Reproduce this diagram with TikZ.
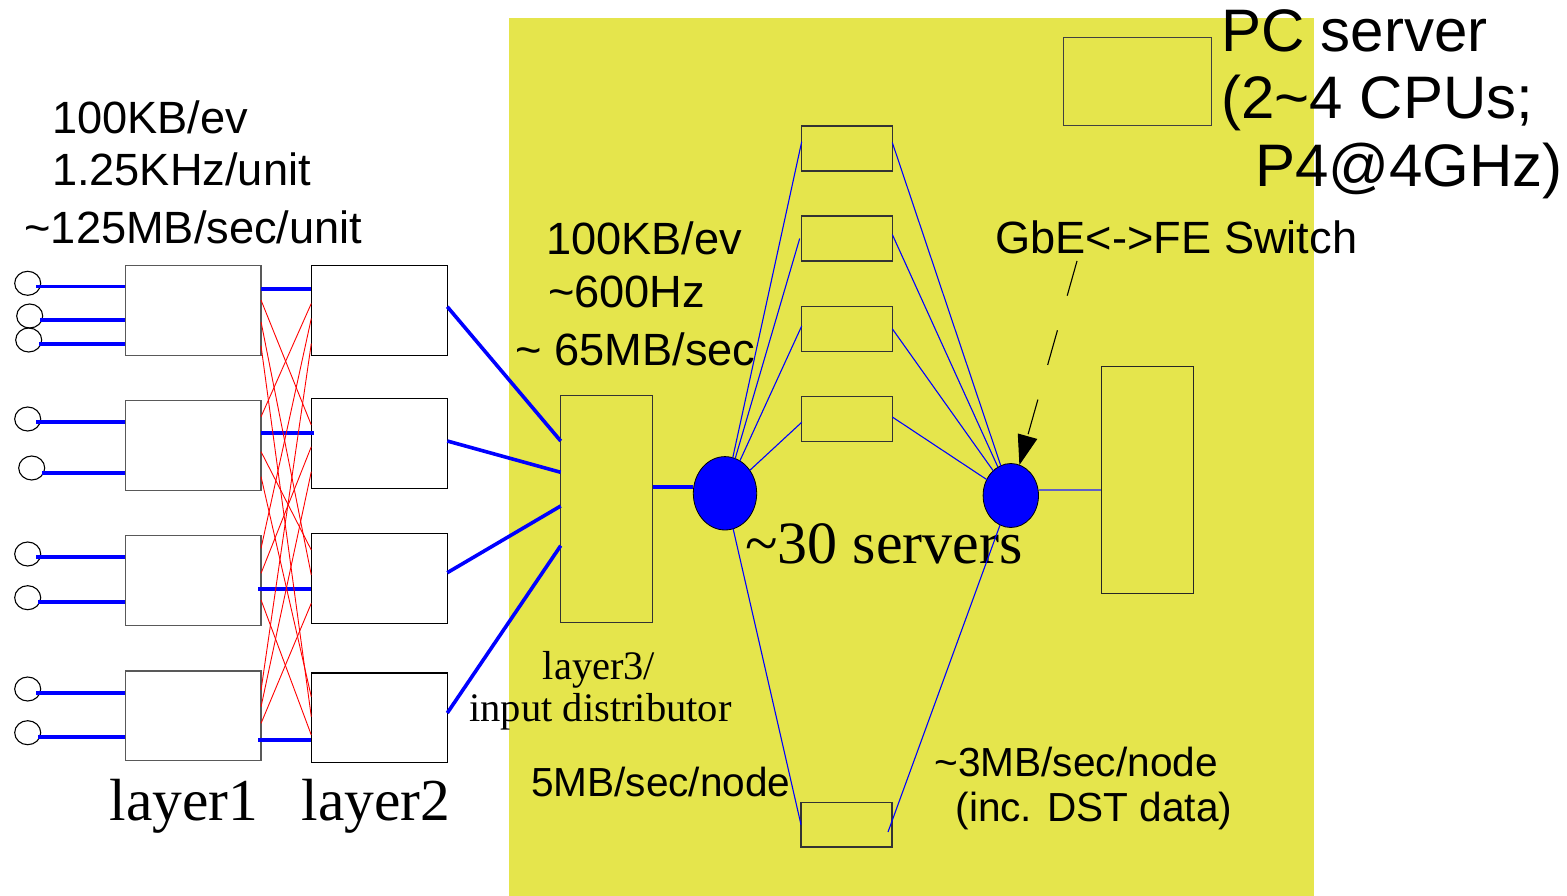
\documentclass[tikz,border=0pt]{standalone}
\usepackage{fontspec}
\setmainfont{Liberation Serif}
\newfontfamily\arial{Liberation Sans}
\usetikzlibrary{shapes.geometric,arrows.meta}
\definecolor{panel}{RGB}{229,229,76}
\definecolor{linkblue}{RGB}{0,0,255}
\definecolor{slate}{RGB}{96,96,200}
\newcommand\tildech{\char"7E\relax}
\begin{document}
\begin{tikzpicture}[x=1pt,y=-1pt,
  every node/.style={inner sep=0pt, outer sep=0pt},
  plainbox/.style 2 args={draw, rectangle, line width=1.2pt, minimum width=#1, minimum height=#2},
  port/.style={draw, ellipse, line width=1.1pt, minimum width=26pt, minimum height=24pt},
  hub/.style={draw=black, fill=linkblue, ellipse, line width=0.8pt},
  feed/.style={draw=linkblue, line width=3.6pt},
  mesh/.style={draw=red, line width=0.9pt},
  wire/.style={draw=linkblue, line width=1.1pt},
  pointer/.style={line width=1.1pt, dash pattern=on 36pt off 36pt, -{Triangle[length=30pt,width=20pt]}},
  sansL/.style={font=\arial\fontsize{45.2pt}{53pt}\selectfont, anchor=base west},
  sansM/.style={font=\arial\fontsize{40.6pt}{48pt}\selectfont, anchor=base west},
  sansXL/.style={font=\arial\fontsize{60pt}{67pt}\selectfont, anchor=base west},
  serifL/.style={font=\fontsize{60pt}{67pt}\selectfont, anchor=base west},
  serifM/.style={font=\fontsize{40.5pt}{48pt}\selectfont, anchor=base},
]
\useasboundingbox (0,0) rectangle (1567,896);

% farm area
\fill[panel] (509,18) rectangle (1314,896);

% ---- labels ----
\node[sansL] (t1a) at (52,133.3) {100KB/ev};
\node[sansL] (t1b) at (52,186) {1.25KHz/unit};
\node[sansL] (t1c) at (24.5,243.3) {\tildech125MB/sec/unit};

\node[sansL] (t2a) at (546,255) {100KB/ev};
\node[sansL] (t2b) at (548,307.3) {\tildech600Hz};
\node[sansL] (t2c) at (515.5,365) {\tildech{} 65MB/sec};

\node[sansXL] (t3a) at (1221,51.7) {PC server};
\node[sansXL] (t3b) at (1221.5,118.3) {(2\tildech4 CPUs;};
\node[sansXL] (t3c) at (1255,186.7) {P4@4GHz)};

\node[sansL] (gbe) at (995.5,253.3) {GbE<->FE Switch};

\node[serifL] (srv) at (745.5,563.3) {\tildech30 servers};

\node[sansM] (t4) at (531,796) {5MB/sec/node};
\node[sansM] (t5a) at (934.5,776.7) {\tildech3MB/sec/node};
\node[sansM] (t5b) at (955.5,821.7) {(inc. DST data)};

\node[serifL, font=\fontsize{59.5pt}{66pt}\selectfont] (lay1) at (109.5,820) {layer1};
\node[serifL, font=\fontsize{59.5pt}{66pt}\selectfont] (lay2) at (301.5,820) {layer2};
\node[serifM] (lay3a) at (599,679.3) {layer3/};
\node[serifM] (lay3b) at (600.5,721.7) {input distributor};

% ---- layer 1 and layer 2 units ----
\node[plainbox={135.7pt}{90pt}, draw=black!65, fill=white] (l1a) at (193.2,310.2) {};
\node[plainbox={135.7pt}{90pt}, draw=black!65, fill=white] (l1b) at (193.2,445.3) {};
\node[plainbox={135.7pt}{90pt}, draw=black!65, fill=white] (l1c) at (193.2,580.3) {};
\node[plainbox={135.7pt}{89.3pt}, draw=black!65, fill=white] (l1d) at (193.2,715.7) {};

\node[plainbox={136pt}{90pt}, fill=white] (l2a) at (379.3,310.2) {};
\node[plainbox={136pt}{90.4pt}, fill=white] (l2b) at (379.3,443.5) {};
\node[plainbox={136pt}{90pt}, fill=white] (l2c) at (379.3,578.3) {};
\node[plainbox={136pt}{89.3pt}, fill=white] (l2d) at (379.3,717.7) {};

% ---- detector inputs ----
\foreach \n/\x/\y in {1/27.7/283.3, 2/29.7/316, 3/28.7/340, 4/27.7/419, 5/31.7/468,
                      6/27.7/554, 7/27.7/597.7, 8/27.7/689, 9/27.7/732.7}
  \node[port] (c\n) at (\x,\y) {};

\foreach \n/\x/\y/\b in {1/36/286.7/l1a, 2/40/319.7/l1a, 3/39/343.7/l1a,
                         4/36/422/l1b, 5/42/472.7/l1b, 6/36/556.7/l1c,
                         7/38/601.7/l1c, 8/36/692.7/l1d, 9/38/736.7/l1d}
{
  \coordinate (f\n) at (\x,\y);
  \draw[feed] (f\n) -- (f\n -| \b.west);
}

% ---- layer 1 -> layer 2: direct links ----
\draw[feed] ([yshift=21.2pt]l1a.east) -- ([yshift=21.2pt]l2a.west);
\draw[feed] ([yshift=12.6pt]l1b.east) -- ([xshift=3pt,yshift=10.8pt]l2b.west);
\draw[feed] ([xshift=-3pt,yshift=-8.7pt]l1c.east) -- ([yshift=-10.7pt]l2c.west);
\draw[feed] ([xshift=-3pt,yshift=-24.3pt]l1d.east) -- ([yshift=-22.3pt]l2d.west);

% ---- layer 1 -> layer 2: crossed links ----
\foreach \a/\da/\b/\db in {l1a/35/l2b/26.7, l1a/56.7/l2c/41.7, l1a/80.7/l2d/43.7,
                           l1b/16.4/l2a/38.3, l1b/51.4/l2c/16.7, l1b/76.4/l2d/23.7,
                           l1c/13/l2a/53.3, l1c/38/l2b/48.4, l1c/64.7/l2d/62,
                           l1d/19/l2a/78.3, l1d/35.7/l2b/73.4, l1d/52.3/l2c/70}
  \draw[mesh] ([yshift=-\da pt]\a.north east) -- ([yshift=-\db pt]\b.north west);

% ---- layer 3 ----
\node[plainbox={92pt}{227pt}, draw=black!80] (dist) at (606.7,509.2) {};

\draw[feed] ([yshift=3.5pt]l2a.east) -- ([yshift=68.2pt]dist.west);
\draw[feed] ([yshift=2.5pt]l2b.east) -- ([yshift=36.9pt]dist.west);
\draw[feed] ([yshift=5.6pt]l2c.east) -- ([yshift=3.2pt]dist.west);
\draw[feed] ([yshift=4.7pt]l2d.east) -- ([yshift=-36.5pt]dist.west);

% ---- switches ----
\node[hub, minimum width=63.4pt, minimum height=73.4pt] (le) at (725,493.3) {};
\node[hub, minimum width=55.4pt, minimum height=64pt] (re) at (1010.8,495.5) {};

\draw[feed] ([yshift=22.2pt]dist.east) -- ([yshift=22.2pt]dist.east -| le.west);

% ---- PC servers ----
\node[plainbox={90.6pt}{45pt}, draw=black!80] (s1) at (847,148.5) {};
\node[plainbox={90.6pt}{45pt}, draw=black!80] (s2) at (847,238.5) {};
\node[plainbox={90.6pt}{45pt}, draw=black!80] (s3) at (847,328.8) {};
\node[plainbox={90.6pt}{45pt}, draw=black!80] (s4) at (847,419) {};
\node[plainbox={91pt}{44.7pt}, draw=black!80] (sb) at (846.5,824.7) {};

\draw[wire] (le) -- ([yshift=6.8pt]s1.west);
\draw[wire] (le) -- ([xshift=-2pt]s2.west);
\draw[wire] (le) -- ([yshift=2.8pt]s3.west);
\draw[wire] (le) -- ([yshift=-3.3pt]s4.west);
\draw[wire] (le) -- (sb.west);

\draw[wire] ([yshift=6pt]s1.east) -- (re);
\draw[wire] ([yshift=4pt]s2.east) -- (re);
\draw[wire] (s3.east) -- (re);
\draw[wire] ([yshift=2pt]s4.east) -- (re);
\draw[wire] ([xshift=-4pt,yshift=-7.3pt]sb.east) -- (re);

% ---- storage / output box ----
\node[plainbox={92.4pt}{227pt}, draw=black!85] (rb) at (1147.5,479.8) {};
\draw[slate, line width=1.5pt] ([yshift=5.5pt]re.east) -- ([yshift=-10.2pt]rb.west);

% legend box
\node[plainbox={148pt}{88pt}, draw=black!75] (pc) at (1137.5,81.7) {};

% switch pointer
\coordinate (gtail) at (1077,261);
\draw[pointer] (gtail) -- (re);
\end{tikzpicture}
\end{document}
